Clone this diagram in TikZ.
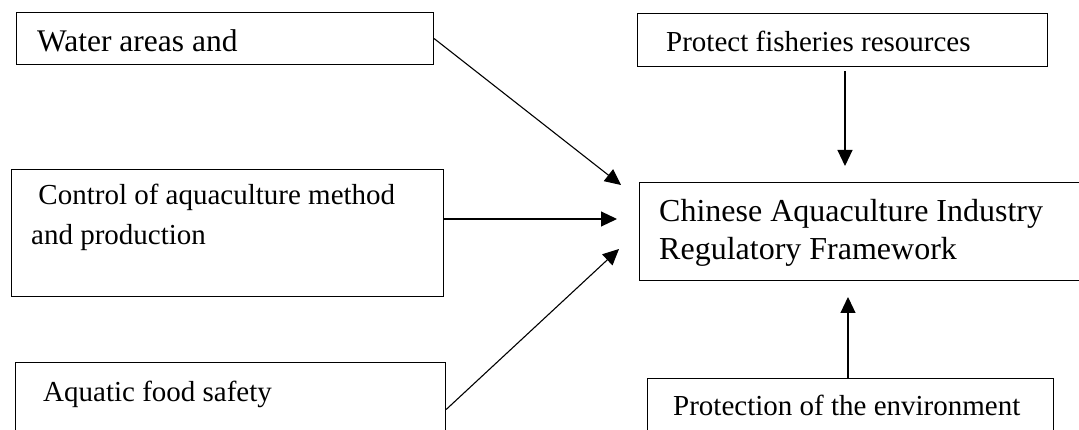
\documentclass[tikz,border=0pt]{standalone}
\usepackage{fontspec}
\setmainfont{Liberation Serif}
\usetikzlibrary{arrows.meta,positioning}

\tikzset{
  box/.style={draw, line width=1.1pt, rectangle, anchor=north west, inner sep=0pt},
  txt/.style={anchor=base west, inner sep=0pt, align=left},
  link/.style={line width=1.1pt, -{Triangle[length=16pt,width=15pt]}}
}
\newcommand{\fsize}[2]{\fontsize{#1}{#2}\selectfont}

\begin{document}
\begin{tikzpicture}[x=1pt,y=-1pt]
        \useasboundingbox (0,0) rectangle (1079,430);
        \clip (0,0) rectangle (1079,430);
        % cajas de la izquierda
        \node[box, minimum width=417, minimum height=52] (water) at (16,12) {};
        \node[box, minimum width=432, minimum height=127] (control) at (11,169) {};
        \node[box, minimum width=430, minimum height=94] (food) at (15,362) {};
        % cajas de la derecha
        \node[box, minimum width=410, minimum height=53] (fisheries) at (637,13) {};
        \node[box, minimum width=460, minimum height=98] (framework) at (639,182) {};
        \node[box, minimum width=406, minimum height=90] (environment) at (647,378) {};
        % textos (base = ultima linea)
        \node[txt, font=\fsize{31.5}{38}] (watertext) at (37,52) {Water areas and};
        \node[txt, font=\fsize{29}{40}] (controltext) at (31,245) {\ Control of aquaculture method\\and production};
        \node[txt, font=\fsize{29}{35}] (foodtext) at (43,401) {Aquatic food safety};
        \node[txt, font=\fsize{29}{35}] (fisheriestext) at (666,52) {Protect fisheries resources};
        \node[txt, font=\fsize{32}{38}] (frameworktext) at (659,260) {Chinese Aquaculture Industry\\Regulatory Framework};
        \node[txt, font=\fsize{29}{35}] (environmenttext) at (673,415) {Protection of the environment};
        % puntas de flecha
        \coordinate (tipwater) at (621,185);
        \coordinate (tipcontrol) at (617,219);
        \coordinate (tipfood) at (619,249);
        \coordinate (tipfisheries) at (845,166);
        \coordinate (tipenv) at (848,297);
        % flechas
        \draw[link] (water.east) -- (tipwater);
        \draw[link] (control.east |- tipcontrol) -- (tipcontrol);
        \draw[link] (food.east) -- (tipfood);
        \draw[link] ([yshift=-4pt]fisheries.south -| tipfisheries) -- (tipfisheries);
        \draw[link] (environment.north -| tipenv) -- (tipenv);
        \end{tikzpicture}
\end{document}
